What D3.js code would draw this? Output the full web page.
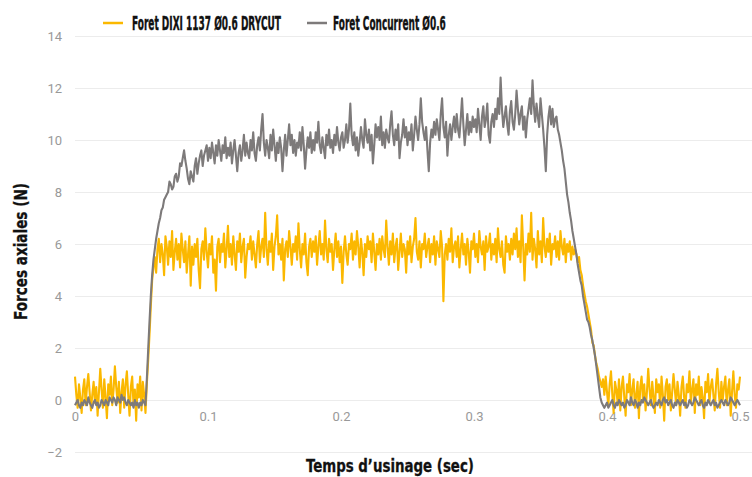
<!DOCTYPE html>
<html>
<head>
<meta charset="utf-8">
<script src="https://cdn.jsdelivr.net/npm/d3@7"></script>
<style>
  html, body { margin: 0; padding: 0; background: #fff; }
  svg { display: block; }
</style>
</head>
<body>
<div id="chart"></div>
<script>
// Forces axiales - foret DIXI vs concurrent
const seriesNames = ['Foret DIXI 1137 Ø0.6 DRYCUT', 'Foret Concurrent Ø0.6'];
const sampleStep = 0.001; // s between samples, first sample at t = 0

// Foret DIXI 1137 (orange), N
const dixiForce = [
  0.9, 0.2, -0.3, 0.6, 0.1, -0.5, 0.4, 0.8, -0.2, 0.5,
  1.0, 0.3, -0.4, 0.2, 0.7, -0.1, 0.5, -0.6, 0.3, 1.2,
  0.4, -0.3, 0.8, 0.1, -0.7, 0.6, 0.2, 0.9, -0.2, 0.4,
  1.3, 0.5, -0.1, 0.7, -0.5, 0.3, 0.8, -0.3, 0.6, 1.1,
  0.2, -0.6, 0.5, 0.9, -0.2, 0.4, -0.8, 0.6, 0.1, 0.9,
  -0.4, 0.7, 0.2, -0.5,
  0.6, 1.5, 2.5, 3.6, 4.6, 5.1, 5.5,
  4.9, 5.8, 6.2, 5.3, 6.0, 5.6, 4.8, 6.3, 5.9, 5.2,
  6.1, 5.5, 6.5, 5.0, 5.7, 6.2, 5.4, 6.0, 5.1, 6.4,
  5.8, 5.3, 6.1, 4.9, 5.6, 6.3, 4.4, 5.9, 5.2, 6.0,
  5.5, 6.2, 5.0, 4.3, 5.8, 6.1, 5.4, 6.6, 5.7, 5.1,
  6.0, 5.6, 6.3, 4.9, 5.4, 4.2, 5.9, 6.2, 5.3, 6.0,
  5.7, 6.4, 5.1, 5.8, 6.7, 5.5, 6.0, 5.2, 6.3, 5.6,
  5.0, 6.1, 5.7, 6.4, 5.3, 5.9, 6.2, 4.7, 5.5, 6.0,
  5.8, 6.3, 5.4, 6.1, 5.6, 5.1, 6.0, 6.5, 5.3, 5.9,
  6.2, 5.5, 7.2, 5.8, 5.2, 6.1, 5.7, 6.4, 5.0, 5.9,
  6.3, 7.1, 5.6, 6.0, 5.4, 6.2, 4.6, 5.8, 6.1, 5.5,
  6.5, 5.9, 5.2, 6.0, 5.7, 6.3, 5.4, 6.8, 5.8, 5.1,
  6.0, 5.6, 6.4, 5.3, 4.8, 5.9, 6.2, 5.5, 6.1, 5.7,
  6.3, 5.2, 5.9, 6.5, 5.6, 6.0, 5.4, 6.9, 5.8, 5.3,
  6.2, 5.7, 6.0, 5.0, 5.8, 6.4, 5.5, 6.1, 5.3, 5.9,
  4.5, 5.7, 6.3, 5.6, 5.2, 6.0, 5.8, 6.4, 5.4, 6.1,
  5.6, 6.5, 5.9, 5.1, 6.2, 5.7, 4.8, 6.0, 5.5, 6.3,
  5.8, 6.1, 5.3, 6.4, 5.7, 5.0, 6.0, 5.6, 6.2, 5.4,
  6.3, 5.8, 5.5, 6.9, 5.9, 5.2, 6.1, 5.6, 6.4, 5.3,
  5.9, 6.2, 5.0, 5.7, 6.4, 5.5, 6.0, 5.8, 4.9, 6.1,
  5.6, 6.3, 5.3, 5.9, 6.2, 7.0, 5.7, 5.4, 6.1, 5.1,
  6.0, 5.8, 6.4, 5.5, 5.9, 6.2, 5.3, 6.0, 5.6, 6.3,
  5.2, 6.1, 5.8, 5.5, 6.5, 5.9, 3.8, 5.6, 6.0, 5.4,
  6.2, 5.7, 6.6, 5.3, 5.9, 6.1, 5.5, 6.3, 5.1, 5.8,
  6.4, 5.6, 6.0, 5.2, 6.2, 5.7, 4.9, 6.1, 5.8, 6.4,
  5.5, 6.0, 5.3, 6.5, 5.9, 5.6, 6.1, 5.0, 6.3, 5.7,
  5.9, 6.4, 5.4, 6.0, 5.6, 6.2, 5.3, 6.6, 5.8, 5.5,
  6.1, 5.2, 4.9, 6.3, 5.7, 6.0, 5.4, 6.2, 5.6, 6.4,
  5.8, 6.6, 5.5, 6.1, 5.3, 7.1, 5.9, 4.6, 6.0, 5.6,
  6.4, 5.7, 7.2, 5.4, 6.2, 5.8, 5.1, 6.5, 5.6, 6.1,
  5.3, 7.0, 5.9, 5.5, 6.2, 5.7, 6.4, 5.2, 6.0, 5.8,
  6.3, 5.5, 6.1, 5.4, 6.5, 5.9, 5.6, 6.2, 5.3, 6.0,
  5.7, 6.1, 5.4, 5.9, 5.6, 5.8,
  5.6, 5.3, 5.5, 5.0, 4.8, 4.4, 4.1, 3.8, 3.6, 3.3,
  3.0, 2.7, 2.2, 2.1, 1.7, 1.4, 1.2, 0.9, 0.7, 0.5,
  0.8, 0.2,
  0.9, 0.3, -0.2, 0.6, 1.1, 0.2, -0.5, 0.7, 0.4, -0.1,
  0.8, -0.4, 0.5, 0.9, 0.1, -0.6, 0.6, 0.3, 1.0, -0.2,
  0.4, 0.8, -0.3, 0.2, 0.7, -0.7, 0.5, 0.9, 0.0, 0.6,
  -0.4, 0.3, 1.2, 0.4, -0.2, 0.7, 0.1, -0.5, 0.8, 0.3,
  0.6, -0.3, 0.9, 0.2, -0.8, 0.5, 0.8, 0.0, 0.6, -0.4,
  0.3, 1.0, 0.4, -0.2, 0.7, 0.2, -0.6, 0.5, 0.9, 0.1,
  -0.3, 0.6, 0.3, 1.1, -0.1, 0.4, 0.8, -0.5, 0.6, 0.2,
  0.9, -0.2, 0.5, 0.1, -0.7, 0.7, 0.3, 1.0, -0.1, 0.5,
  0.8, 0.2, -0.4, 0.6, 1.2, 0.3, -0.3, 0.7, 0.0, 0.5,
  0.9, -0.2, 0.4, 0.8, -0.6, 0.3, 1.1, 0.2, -0.3, 0.6,
  0.4, 0.9
];

// Foret concurrent (gris), N
const concurrentForce = [
  -0.2, -0.1, 0.0, -0.2, -0.3, -0.1, -0.2, 0.0, -0.1, -0.2,
  0.1, -0.1, -0.2, -0.3, -0.1, 0.0, -0.2, -0.1, -0.3, -0.2,
  0.0, -0.1, -0.2, 0.0, -0.1, -0.2, 0.1, 0.0, -0.1, 0.1,
  0.0, -0.2, 0.1, 0.0, -0.1, 0.2, 0.0, 0.1, -0.1, -0.2,
  0.0, -0.1, -0.2, -0.1, -0.3, 0.0, -0.2, -0.1, -0.3, -0.1,
  -0.2, 0.0, -0.1, -0.2,
  0.8, 1.9, 3.0, 4.0, 4.8, 5.4, 5.8, 6.2, 6.5, 6.8,
  7.0, 7.3, 7.4, 7.7, 7.8, 7.9, 8.0, 8.4, 8.3, 8.1,
  8.2, 8.6, 8.7, 8.4, 8.6, 9.1, 9.0, 9.3, 9.6, 9.2,
  8.9, 8.5, 8.3, 8.8, 8.6, 8.4, 9.0, 9.3, 8.7, 9.1,
  9.4, 9.6, 9.0, 9.4, 9.6, 9.8, 9.2,
  9.7, 9.3, 9.9, 9.5, 9.1, 9.8, 9.4, 10.0, 9.6, 9.2,
  9.8, 9.5, 10.1, 9.3, 9.7, 9.4, 9.9, 9.1, 9.6, 10.0,
  9.4, 8.8, 9.5, 9.8, 9.2, 9.6, 10.2, 9.4, 9.9, 9.5,
  9.3, 10.0, 9.6, 10.3, 9.5, 9.2, 9.8, 10.1, 9.6, 10.4,
  11.0, 9.9, 9.4, 10.0, 9.7, 9.3, 10.2, 9.6, 10.4, 9.8,
  9.2, 9.9, 9.5, 10.1, 9.7, 8.8, 9.6, 10.2, 9.4, 10.0,
  10.6, 9.8, 10.2, 9.5, 10.0, 9.4, 9.9, 9.7, 10.3, 9.6,
  10.5, 9.8, 8.9, 9.6, 10.1, 9.7, 10.3, 9.5, 10.0, 9.6,
  10.3, 9.9, 10.7, 9.8, 9.5, 10.1, 9.7, 9.3, 10.2, 9.8,
  10.4, 9.7, 10.0, 9.5, 10.2, 9.8, 10.5, 9.9, 9.6, 10.1,
  10.3, 9.7, 10.0, 10.6, 9.9, 10.4, 11.4, 10.2, 9.8, 10.3,
  9.6, 10.1, 9.4, 9.9, 10.5, 10.0, 9.7, 10.8, 10.2, 9.9,
  10.4, 9.6, 10.2, 9.1, 9.8, 10.6, 10.1, 10.5, 10.0, 10.9,
  9.8, 10.3, 9.7, 10.4, 10.1, 9.9, 10.6, 11.1, 10.2, 9.8,
  10.4, 10.0, 10.6, 9.3, 9.9, 10.2, 10.8, 10.1, 10.5, 9.8,
  10.3, 10.0, 10.6, 9.6, 10.2, 10.9, 10.4, 10.0, 10.6, 11.6,
  10.7, 10.3, 10.0, 10.5, 9.6, 8.8, 9.9, 10.4, 10.1, 10.7,
  10.2, 10.8, 10.4, 10.0, 11.0, 11.6, 10.5, 10.1, 10.7, 9.4,
  10.2, 10.6, 10.0, 10.5, 10.9, 10.3, 11.0, 10.4, 10.1, 10.8,
  11.6, 10.6, 9.8, 10.4, 11.0, 10.2, 10.7, 10.3, 10.9, 10.5,
  10.8, 10.3, 11.2, 10.6, 10.0, 10.9, 11.3, 10.5, 10.8, 11.4,
  10.2, 9.9, 10.7, 11.0, 10.5, 11.2, 10.8, 11.6, 11.0, 12.4,
  11.2, 10.5, 10.9, 11.3, 10.6, 10.2, 11.1, 11.5, 10.7, 10.4,
  11.0, 11.9, 11.2, 10.6, 11.0, 11.3, 10.4, 10.9, 10.1, 10.8,
  11.2, 11.6, 11.0, 12.3, 11.3, 10.7, 11.4, 10.9, 10.5, 11.6,
  11.0, 10.4, 9.7, 8.8, 10.2, 10.9, 11.3, 10.6, 11.2, 10.5,
  10.8, 10.9, 10.4, 10.2, 9.9, 9.6, 9.2, 8.9, 8.4, 7.9,
  7.6, 7.2, 6.9, 6.5, 6.2, 5.9, 5.6, 5.2, 4.9, 4.6,
  4.4, 4.0, 3.7, 3.4, 3.1, 3.0, 2.8, 2.5, 2.3, 2.0,
  1.7, 1.3, 0.9, 0.5, 0.1, -0.1, -0.2, -0.3,
  -0.2, -0.1, -0.3, -0.2, -0.1, 0.0, -0.2, -0.3, -0.1, -0.2,
  0.0, -0.1, -0.2, -0.1, -0.3, -0.2, 0.0, -0.1, -0.2, 0.1,
  -0.1, -0.2, 0.0, -0.1, -0.3, -0.1, -0.2, 0.0, -0.1, 0.1,
  0.0, -0.1, -0.2, -0.1, 0.0, -0.2, -0.3, -0.2, -0.1, -0.2,
  0.0, -0.1, -0.2, 0.0, 0.1, -0.1, 0.0, -0.2, -0.1, 0.0,
  -0.2, -0.3, -0.1, -0.2, 0.0, -0.1, -0.2, -0.1, 0.0, -0.2,
  -0.1, -0.3, -0.2, 0.0, -0.1, -0.2, -0.1, 0.1, 0.0, -0.1,
  -0.2, -0.1, 0.0, -0.2, -0.3, -0.1, -0.2, 0.0, -0.1, -0.2,
  -0.1, 0.0, -0.2, -0.1, -0.3, -0.2, -0.1, 0.0, -0.1, -0.2,
  0.0, -0.1, -0.2, -0.1, 0.1, 0.0, -0.1, -0.2, -0.1, 0.0,
  -0.1, -0.2
];

const yTicks = [-2, 0, 2, 4, 6, 8, 10, 12, 14];
const xTicks = [0, 0.1, 0.2, 0.3, 0.4, 0.5];
const xTickLabels = ['0', '0.1', '0.2', '0.3', '0.4', '0.5'];

(function() {
  const width = 752;
  const height = 477;
  const orange = '#fbb800';
  const grey = '#7d7a7a';
  const tickColor = '#999999';
  const titleFont = "'Liberation Sans Narrow', 'DejaVu Sans Condensed', 'Roboto', sans-serif";
  const tickFont = "Roboto, 'Open Sans', sans-serif";

  const svg = d3.select('#chart')
    .append('svg')
    .attr('width', width)
    .attr('height', height);

  const x = d3.scaleLinear().domain([0, 0.5]).range([75, 740]);
  const y = d3.scaleLinear().domain([-2, 14]).range([452, 36]);

  // Y axis with grid lines
  const yAxis = svg.append('g')
    .attr('transform', 'translate(75,0)')
    .call(d3.axisLeft(y).tickValues(yTicks).tickSize(-(width - 75)).tickPadding(13).tickFormat(d3.format('d')));
  yAxis.select('.domain').remove();
  yAxis.selectAll('.tick line').attr('stroke', '#ececec').attr('stroke-width', 1);
  yAxis.selectAll('.tick text')
    .attr('fill', tickColor)
    .attr('font-family', tickFont)
    .attr('font-size', '13px');

  // X axis labels sit just under the zero line
  const xAxis = svg.append('g')
    .attr('transform', `translate(0,${y(0)})`)
    .call(d3.axisBottom(x).tickValues(xTicks).tickSize(0).tickPadding(12)
      .tickFormat((d, i) => xTickLabels[i]));
  xAxis.select('.domain').remove();
  xAxis.selectAll('.tick text')
    .attr('fill', tickColor)
    .attr('font-family', tickFont)
    .attr('font-size', '13px');

  // Lines (thick stroke so the noisy signal reads as a band)
  const line = d3.line()
    .x((d, i) => x(i * sampleStep))
    .y(d => y(d));

  svg.append('path')
    .datum(dixiForce)
    .attr('d', line)
    .attr('fill', 'none')
    .attr('stroke', orange)
    .attr('stroke-width', 2.1)
    .attr('stroke-linejoin', 'round');

  svg.append('path')
    .datum(concurrentForce)
    .attr('d', line)
    .attr('fill', 'none')
    .attr('stroke', grey)
    .attr('stroke-width', 2.1)
    .attr('stroke-linejoin', 'round');

  // squeeze a text horizontally to a given width (condensed look)
  function fitText(sel, tx, ty, targetW, rotate) {
    const w = sel.node().getComputedTextLength();
    const s = targetW / w;
    sel.attr('transform', `translate(${tx},${ty})` + (rotate ? ' rotate(-90)' : '') + ` scale(${s},1)`);
  }

  // Legend
  const legend = [
    { name: seriesNames[0], color: orange, x1: 103, tx: 132, tw: 149 },
    { name: seriesNames[1], color: grey, x1: 307, tx: 333, tw: 113 }
  ];
  legend.forEach(l => {
    svg.append('line')
      .attr('x1', l.x1).attr('x2', l.x1 + 20)
      .attr('y1', 23).attr('y2', 23)
      .attr('stroke', l.color)
      .attr('stroke-width', 2.5);
    const t = svg.append('text')
      .attr('font-family', titleFont)
      .attr('font-weight', 'bold')
      .attr('font-size', '19px')
      .attr('fill', '#111')
      .attr('stroke', '#111')
      .attr('stroke-width', 0.4)
      .text(l.name);
    fitText(t, l.tx, 30, l.tw, false);
  });

  // Axis titles
  const xt = svg.append('text')
    .attr('font-family', titleFont)
    .attr('font-weight', 'bold')
    .attr('font-size', '18px')
    .attr('fill', '#111')
    .attr('stroke', '#111')
    .attr('stroke-width', 0.3)
    .text('Temps d’usinage (sec)');
  fitText(xt, 306, 472, 168, false);

  const yt = svg.append('text')
    .attr('font-family', titleFont)
    .attr('font-weight', 'bold')
    .attr('font-size', '18px')
    .attr('fill', '#111')
    .attr('stroke', '#111')
    .attr('stroke-width', 0.3)
    .text('Forces axiales (N)');
  fitText(yt, 27, 320, 137, true);
})();
</script>
</body>
</html>
